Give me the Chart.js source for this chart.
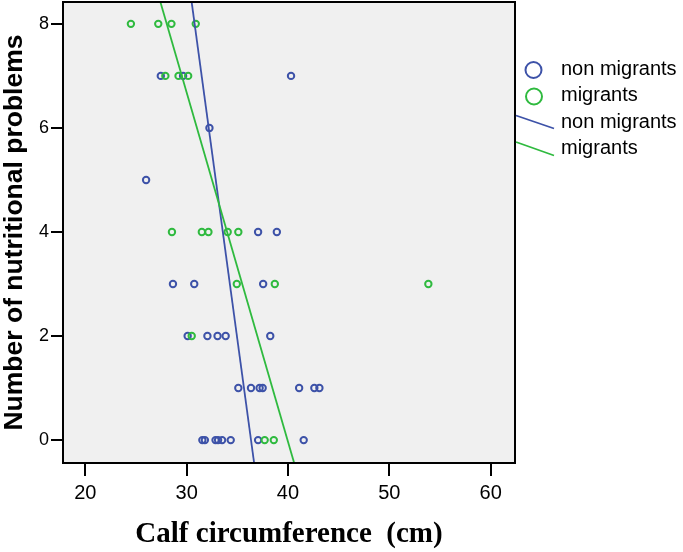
<!DOCTYPE html>
<html><head><meta charset="utf-8">
<script src="https://cdn.jsdelivr.net/npm/chart.js@4"></script>
<style>html,body{margin:0;padding:0;background:#fff}#wrap{position:relative;width:683px;height:552px}</style>
</head><body><div id="wrap"><canvas id="c" width="683" height="552"></canvas></div>
<script>
// Calf circumference (cm) vs number of nutritional problems
const nonMigrantsX = [27.45, 29.65, 40.3, 32.25, 26.0, 37.05, 38.9, 28.65, 30.75, 37.55,
  30.1, 32.05, 33.05, 33.85, 38.25, 35.1, 36.35, 37.2, 37.5, 41.1, 42.6, 43.1,
  31.55, 31.8, 32.85, 33.1, 33.5, 34.35, 37.05, 41.55];
const nonMigrantsY = [7, 7, 7, 6, 5, 4, 4, 3, 3, 3,
  2, 2, 2, 2, 2, 1, 1, 1, 1, 1, 1, 1,
  0, 0, 0, 0, 0, 0, 0, 0];
const migrantsX = [24.5, 27.2, 28.5, 30.9, 27.9, 29.2, 30.15,
  28.55, 31.5, 32.15, 34.05, 35.1, 34.95, 38.7, 53.85, 30.5, 37.7, 38.6];
const migrantsY = [8, 8, 8, 8, 7, 7, 7,
  4, 4, 4, 4, 4, 3, 3, 3, 2, 0, 0];
// fit lines (end points)
const nonMigrantsFitX = [30.48, 36.66];
const nonMigrantsFitY = [8.44, -0.44];
const migrantsFitX = [27.38, 40.61];
const migrantsFitY = [8.44, -0.44];
const xTicks = [20, 30, 40, 50, 60];
const yTicks = [0, 2, 4, 6, 8];
const seriesNames = ['non migrants', 'migrants'];
const xTitle = 'Calf circumference  (cm)';
const yTitle = 'Number of nutritional problems';

const BLUE = '#3d52a8', GREEN = '#2fba3f';
const pts = (xs, ys) => xs.map((x, i) => ({x: x, y: ys[i]}));

const bgPlugin = {
  id: 'bg',
  beforeDraw(chart) {
    const {ctx, chartArea: a} = chart;
    ctx.save();
    ctx.fillStyle = '#fff';
    ctx.fillRect(0, 0, chart.width, chart.height);
    ctx.fillStyle = '#f0f0f0';
    ctx.fillRect(a.left, a.top, a.right - a.left, a.bottom - a.top);
    ctx.restore();
  },
  afterDraw(chart) {
    const {ctx, chartArea: a} = chart;
    ctx.save();
    ctx.strokeStyle = '#000';
    ctx.lineWidth = 2;
    ctx.strokeRect(a.left, a.top, a.right - a.left, a.bottom - a.top);
    // legend
    const lx = a.right;
    ctx.font = '20px "Liberation Sans", Arial, sans-serif';
    ctx.textBaseline = 'alphabetic';
    ctx.textAlign = 'left';
    ctx.fillStyle = '#000';
    ctx.lineWidth = 2;
    ctx.strokeStyle = BLUE;
    ctx.beginPath(); ctx.arc(lx + 18.5, 70, 8, 0, Math.PI * 2); ctx.stroke();
    ctx.fillText(seriesNames[0], lx + 46, 75);
    ctx.strokeStyle = GREEN;
    ctx.beginPath(); ctx.arc(lx + 19, 96.5, 8, 0, Math.PI * 2); ctx.stroke();
    ctx.fillText(seriesNames[1], lx + 46, 101);
    ctx.lineWidth = 1.8;
    ctx.strokeStyle = BLUE;
    ctx.beginPath(); ctx.moveTo(lx + 1, 115.5); ctx.lineTo(lx + 39, 128.5); ctx.stroke();
    ctx.fillText(seriesNames[0], lx + 46, 127.5);
    ctx.strokeStyle = GREEN;
    ctx.beginPath(); ctx.moveTo(lx + 1, 142); ctx.lineTo(lx + 39, 155.5); ctx.stroke();
    ctx.fillText(seriesNames[1], lx + 46, 154);
    ctx.restore();
  }
};

const zeroMargins = ax => {
  ax.paddingTop = 0; ax.paddingBottom = 0;
  if (ax._margins) { ax._margins.top = 0; ax._margins.bottom = 0; }
};

new Chart(document.getElementById('c'), {
  type: 'scatter',
  data: {
    datasets: [
      {label: seriesNames[0], data: pts(nonMigrantsX, nonMigrantsY), order: 3,
       pointStyle: 'circle', pointRadius: 3.2, borderWidth: 2, borderColor: BLUE, backgroundColor: 'rgba(0,0,0,0)'},
      {label: seriesNames[1], data: pts(migrantsX, migrantsY), order: 2,
       pointStyle: 'circle', pointRadius: 3.2, borderWidth: 2, borderColor: GREEN, backgroundColor: 'rgba(0,0,0,0)'},
      {type: 'line', label: seriesNames[0] + ' fit', data: pts(nonMigrantsFitX, nonMigrantsFitY), order: 1,
       borderColor: BLUE, borderWidth: 1.8, pointRadius: 0, fill: false},
      {type: 'line', label: seriesNames[1] + ' fit', data: pts(migrantsFitX, migrantsFitY), order: 0,
       borderColor: GREEN, borderWidth: 1.8, pointRadius: 0, fill: false}
    ]
  },
  options: {
    responsive: false, animation: false, devicePixelRatio: 1,
    layout: {autoPadding: false, padding: {top: 2, right: 168, bottom: 0, left: 0}},
    plugins: {legend: {display: false}, tooltip: {enabled: false}},
    scales: {
      x: {
        type: 'linear', min: 17.8, max: 62.4,
        afterBuildTicks: ax => { ax.ticks = xTicks.map(v => ({value: v})); },
        afterFit: ax => { ax.height = 89; ax.paddingLeft = 0; ax.paddingRight = 0; },
        grid: {display: true, drawOnChartArea: false, drawTicks: true, tickLength: 13, color: '#000', lineWidth: 2, tickWidth: 2},
        border: {display: true, color: '#000', width: 2},
        ticks: {color: '#000', padding: 5, autoSkip: false, maxRotation: 0,
                font: {family: '"Liberation Sans", Arial, sans-serif', size: 20}},
        title: {display: true, text: xTitle, color: '#000', padding: {top: 0, bottom: 3},
                font: {family: '"Liberation Serif", "Times New Roman", serif', size: 29, weight: 'bold', lineHeight: 1}}
      },
      y: {
        type: 'linear', min: -0.44, max: 8.42,
        afterBuildTicks: ax => { ax.ticks = yTicks.map(v => ({value: v})); },
        afterFit: ax => { ax.width = 63; zeroMargins(ax); },
        grid: {display: true, drawOnChartArea: false, drawTicks: true, tickLength: 12, color: '#000', lineWidth: 2, tickWidth: 2},
        border: {display: true, color: '#000', width: 2},
        ticks: {color: '#000', padding: 2, autoSkip: false,
                font: {family: '"Liberation Sans", Arial, sans-serif', size: 18, lineHeight: 0.2}},
        title: {display: true, text: yTitle, color: '#000', padding: {top: 1, bottom: 0},
                font: {family: '"Liberation Sans", Arial, sans-serif', size: 26.5, weight: 'bold', lineHeight: 1}}
      }
    }
  },
  plugins: [bgPlugin]
});
</script></body></html>
